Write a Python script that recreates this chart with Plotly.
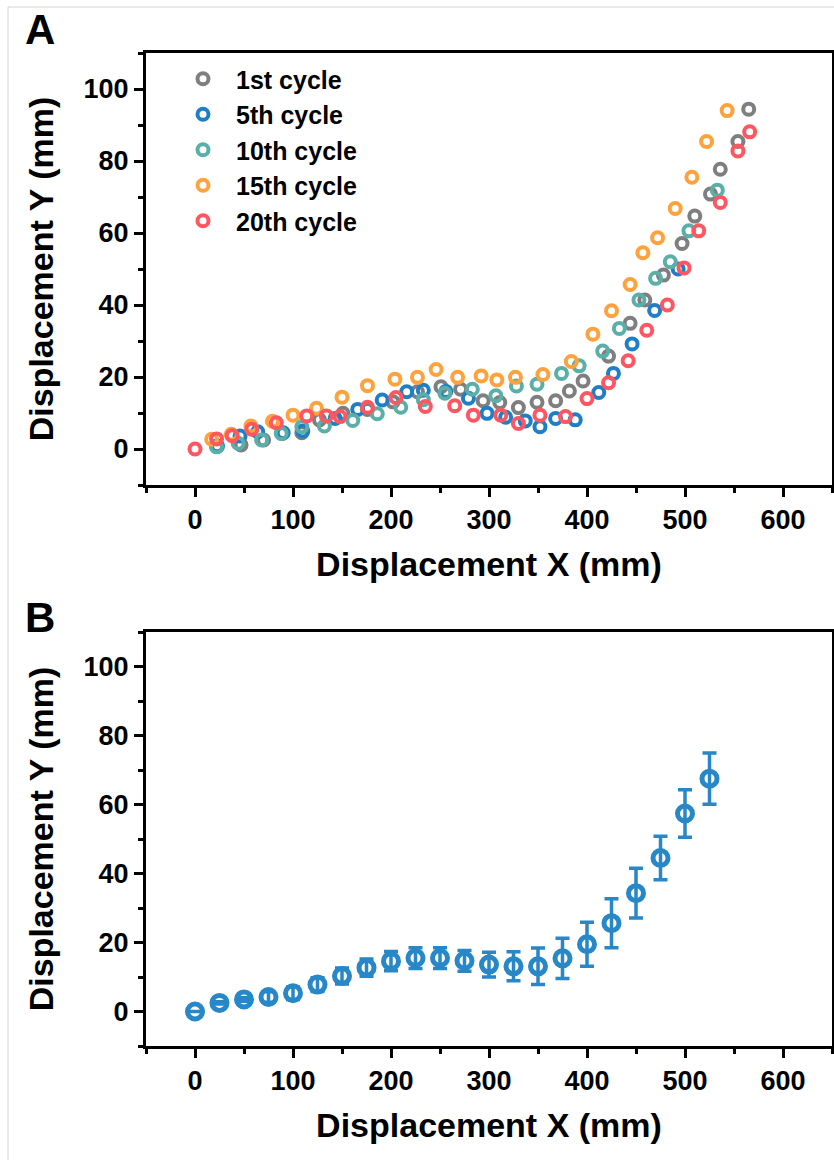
import plotly.graph_objects as go

# ---- Panel A data (Displacement X, Displacement Y in mm) ----
c1_x = [22, 47, 70, 89, 109, 127, 151, 176, 202, 227, 251, 271, 294, 311, 330, 349, 368, 382, 396, 422, 444, 459, 478, 497, 510, 526, 536, 554, 565]
c1_y = [0.8, 1.1, 2.5, 4.3, 4.5, 8.1, 9.9, 11.0, 13.1, 15.9, 17.3, 16.6, 13.4, 12.9, 11.5, 13.0, 13.4, 16.1, 18.9, 25.8, 34.9, 41.4, 48.3, 57.1, 64.7, 70.8, 77.7, 85.4, 94.4]

c5_x = [23, 46, 64, 90, 110, 143, 166, 191, 216, 233, 256, 279, 298, 317, 337, 352, 368, 388, 412, 427, 446, 469, 493]
c5_y = [0.8, 3.6, 4.8, 4.5, 5.0, 8.5, 11.0, 13.6, 15.9, 16.3, 16.0, 14.1, 9.9, 8.8, 7.8, 6.2, 8.5, 8.1, 15.7, 21.0, 29.2, 38.5, 50.0]

c10_x = [22, 44, 68, 88, 109, 132, 161, 186, 210, 233, 255, 283, 307, 328, 349, 374, 392, 416, 433, 453, 470, 485, 504, 533]
c10_y = [0.6, 1.6, 2.5, 4.3, 6.2, 6.4, 7.9, 9.8, 11.6, 13.7, 15.5, 16.6, 14.8, 17.5, 18.0, 21.0, 23.1, 27.2, 33.5, 41.4, 47.4, 52.0, 60.6, 71.9]

c15_x = [17, 37, 57, 79, 100, 124, 150, 176, 204, 227, 246, 268, 292, 308, 327, 355, 384, 406, 425, 444, 457, 472, 490, 507, 522, 543]
c15_y = [2.7, 4.1, 6.4, 7.7, 9.4, 11.3, 14.4, 17.6, 19.4, 19.9, 22.1, 19.9, 20.3, 19.2, 19.9, 20.7, 24.3, 31.9, 38.4, 45.7, 54.5, 58.7, 66.8, 75.5, 85.4, 94.0]

c20_x = [0, 22, 38, 58, 83, 114, 134, 148, 176, 205, 235, 265, 284, 312, 330, 352, 378, 400, 422, 442, 461, 482, 499, 514, 536, 554, 566]
c20_y = [0, 2.8, 3.7, 5.5, 7.3, 9.2, 9.2, 9.0, 11.6, 14.3, 11.8, 12.0, 9.4, 9.4, 7.1, 9.4, 9.0, 14.0, 18.4, 24.5, 33.0, 40.0, 50.3, 60.6, 68.5, 82.8, 88.1]

series_names = ["1st cycle", "5th cycle", "10th cycle", "15th cycle", "20th cycle"]
series_colors = ["#7f7f7f", "#1f7fc6", "#5aafa9", "#ffa23c", "#ff5661"]

# ---- Panel B data (mean with error bars) ----
b_x = [0, 25, 50, 75, 100, 125, 150, 175, 200, 225, 250, 275, 300, 325, 350, 375, 400, 425, 450, 475, 500, 525]
b_y = [0, 2.5, 3.5, 4.2, 5.3, 7.8, 10.3, 12.7, 14.6, 15.5, 15.5, 14.7, 13.6, 13.1, 13.1, 15.4, 19.5, 25.6, 34.3, 44.5, 57.4, 67.5]
b_err = [0, 0.3, 0.5, 1.5, 1.8, 2.0, 2.3, 2.5, 2.8, 3.0, 3.0, 3.0, 3.6, 4.2, 5.3, 5.8, 6.4, 7.1, 7.2, 6.3, 6.9, 7.4]
b_color = "#2787c7"

x_title = "Displacement X (mm)"
y_title = "Displacement Y (mm)"

FONT = "Liberation Sans, Arial, sans-serif"
W, H = 834, 1160

fig = go.Figure()
for xs, ys, name, col in zip([c1_x, c5_x, c10_x, c15_x, c20_x],
                             [c1_y, c5_y, c10_y, c15_y, c20_y],
                             series_names, series_colors):
    fig.add_trace(go.Scatter(
        x=xs, y=ys, mode="markers", name=name,
        marker=dict(symbol="circle-open", size=11, color=col, line=dict(width=4, color=col)),
        xaxis="x", yaxis="y"))

fig.add_trace(go.Scatter(
    x=b_x, y=b_y, mode="markers", showlegend=False,
    marker=dict(symbol="circle-open", size=15, color=b_color, line=dict(width=5, color=b_color)),
    error_y=dict(type="data", array=b_err, visible=True, color=b_color, thickness=3.5, width=7),
    xaxis="x2", yaxis="y2"))

tickfont = dict(family=FONT, size=27, color="black", weight="bold")
titlefont = dict(family=FONT, size=34, color="black", weight="bold")

def xax(anchor):
    return dict(range=[-50, 650], tick0=0, dtick=100, anchor=anchor,
                domain=[146 / W, 832 / W],
                showline=True, linewidth=3, linecolor="black", mirror=True,
                ticks="outside", ticklen=9, tickwidth=3, tickcolor="black",
                minor=dict(dtick=50, ticks="outside", ticklen=5, tickwidth=3, tickcolor="black"),
                showgrid=False, zeroline=False, tickfont=tickfont,
                title=dict(text=x_title, font=titlefont, standoff=18), automargin=False)

def yax(anchor, top, bottom):
    return dict(range=[-10, 110], tick0=0, dtick=20, anchor=anchor,
                domain=[1 - bottom / H, 1 - top / H],
                showline=True, linewidth=3, linecolor="black", mirror=True,
                ticks="outside", ticklen=9, tickwidth=3, tickcolor="black",
                minor=dict(dtick=10, ticks="outside", ticklen=5, tickwidth=3, tickcolor="black"),
                showgrid=False, zeroline=False, tickfont=tickfont,
                title=dict(text=y_title, font=titlefont, standoff=20), automargin=False)

fig.update_layout(
    width=W, height=H,
    margin=dict(l=0, r=0, t=0, b=0),
    paper_bgcolor="white", plot_bgcolor="white",
    xaxis=xax("y"), yaxis=yax("x", 53, 485),
    xaxis2=xax("y2"), yaxis2=yax("x2", 632, 1046),
    legend=dict(x=170 / W, y=1 - 56 / H, xanchor="left", yanchor="top",
                bgcolor="rgba(0,0,0,0)", font=dict(family=FONT, size=25, color="black", weight="bold"),
                itemwidth=56, tracegroupgap=0),
    annotations=[
        dict(text="A", x=40 / W, y=1 - 30 / H, xref="paper", yref="paper", showarrow=False,
             xanchor="center", yanchor="middle",
             font=dict(family=FONT, size=42, color="black", weight="bold")),
        dict(text="B", x=40 / W, y=1 - 617 / H, xref="paper", yref="paper", showarrow=False,
             xanchor="center", yanchor="middle",
             font=dict(family=FONT, size=42, color="black", weight="bold")),
    ],
    shapes=[
        dict(type="line", xref="paper", yref="paper", x0=8 / W, x1=1, y0=1 - 7 / H, y1=1 - 7 / H,
             line=dict(color="#d4d4d4", width=1)),
        dict(type="line", xref="paper", yref="paper", x0=8 / W, x1=8 / W, y0=0, y1=1 - 7 / H,
             line=dict(color="#d4d4d4", width=1)),
    ],
)

fig.write_html("out.html")
